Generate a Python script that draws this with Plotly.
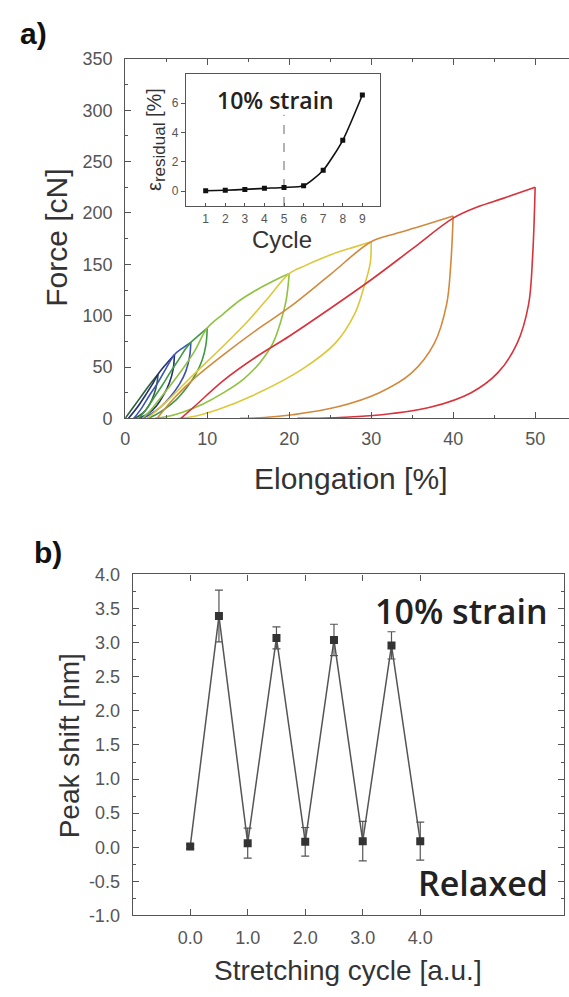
import plotly.graph_objects as go

W, H = 569, 997
AX = "Liberation Sans, Arial, sans-serif"
TXT = "Open Sans, Noto Sans, sans-serif"

# ---------------- panel a) hysteresis loops (Elongation %, Force cN) ----------------
load_x_4 = [0, 1, 2, 3, 4]
load_y_4 = [0, 11, 22, 33, 43]
unload_x_4 = [4, 3.85, 3.5, 3.0, 2.4, 1.7, 1.05]
unload_y_4 = [43, 33, 23, 14, 7, 2.5, 0]

load_x_6 = [0.4, 1.5, 2.5, 3.3, 4, 5, 6]
load_y_6 = [0, 11, 23, 33, 43, 53, 62]
unload_x_6 = [6, 5.85, 5.4, 4.7, 3.8, 2.8, 1.66]
unload_y_6 = [62, 48, 35, 23, 12, 4.5, 0]

load_x_8 = [1.05, 2, 3, 4, 5, 6, 7, 8]
load_y_8 = [0, 10, 23, 35, 49, 62, 68.5, 74]
unload_x_8 = [8, 7.85, 7.4, 6.6, 5.5, 4.3, 3.1, 2.1]
unload_y_8 = [74, 60, 46, 33, 21, 11, 4, 0]

load_x_10 = [1.66, 2.5, 3.5, 4.5, 5.5, 6.5, 7.3, 8, 9, 10]
load_y_10 = [0, 8, 20, 32, 45, 57, 67, 74, 81, 88]
unload_x_10 = [10, 9.85, 9.4, 8.6, 7.5, 6.2, 4.8, 3.6, 2.7]
unload_y_10 = [88, 72, 57, 43, 30, 18, 9, 3, 0]

load_x_20 = [2.1, 3, 4, 5.5, 7, 8.5, 10, 12, 14, 16, 18, 20]
load_y_20 = [0, 7, 17, 32, 48, 66, 88, 102, 115, 125, 133.5, 141]
unload_x_20 = [20, 19.85, 19.6, 19, 18, 16.4, 14.4, 12, 9.5, 7, 5, 3.6]
unload_y_20 = [141, 128, 114, 95, 73, 54, 38, 25, 14, 6, 1.5, 0]

load_x_30 = [2.7, 5, 8, 11.9, 15, 17.5, 20, 22, 24, 26, 28, 30]
load_y_30 = [0, 16, 40, 70, 95, 118, 141, 149, 156, 162, 167, 172]
unload_x_30 = [30, 29.9, 29.2, 28, 25.6, 21.6, 15.5, 11.5, 8.5, 6.5]
unload_y_30 = [172, 152, 130, 102, 73, 48, 22, 9, 2, 0]

load_x_40 = [3.9, 6, 8.3, 12, 16, 20, 25, 30, 33, 36, 40]
load_y_40 = [0, 20, 38, 62, 86, 108, 140, 172, 180, 187, 197]
unload_x_40 = [40, 39.7, 39.2, 37.7, 34.9, 31, 25.8, 20.4, 17, 14]
unload_y_40 = [197, 149, 111, 73, 44, 25, 11, 3.5, 0.8, 0]

load_x_50 = [6.8, 8.5, 12, 16, 20, 25, 30, 35, 40, 43, 46, 50]
load_y_50 = [0, 12, 37, 60, 80, 107, 135, 165, 195, 206, 214, 225]
unload_x_50 = [50, 49.7, 49.2, 47.8, 45.4, 42.2, 37.3, 31.3, 25.5, 21]
unload_y_50 = [225, 159, 111, 73, 44, 25, 11, 3.5, 0.6, 0]

loop_colors = {4: "#2f5e3c", 6: "#25306f", 8: "#3b54b8", 10: "#3f9a42",
               20: "#8fc23f", 30: "#dcc83a", 40: "#d2893c", 50: "#d8323c"}

# ---------------- inset: residual strain vs cycle ----------------
cycle = [1, 2, 3, 4, 5, 6, 7, 8, 9]
eps_residual = [0.04, 0.07, 0.13, 0.2, 0.26, 0.37, 1.43, 3.47, 6.55]
ref_cycle = 5
ref_top = 5.2

# ---------------- panel b) peak shift ----------------
stretch_x = [0, 0.5, 1, 1.5, 2, 2.5, 3, 3.5, 4]
peak_shift = [0.01, 3.39, 0.06, 3.07, 0.08, 3.04, 0.09, 2.96, 0.09]
peak_err = [0.03, 0.38, 0.22, 0.16, 0.21, 0.23, 0.29, 0.20, 0.28]
b_tickvals = [0, 1, 2, 3, 4]
b_ticktext = ["0.0", "1.0", "2.0", "3.0", "4.0"]
b_yvals = [-1.0, -0.5, 0.0, 0.5, 1.0, 1.5, 2.0, 2.5, 3.0, 3.5, 4.0]
b_ytext = ["-1.0", "-0.5", "0.0", "0.5", "1.0", "1.5", "2.0", "2.5", "3.0", "3.5", "4.0"]


def px(x):
    return x / W


def py(y):
    return 1 - y / H


fig = go.Figure()

loops = [
    (4, load_x_4, load_y_4, unload_x_4, unload_y_4),
    (6, load_x_6, load_y_6, unload_x_6, unload_y_6),
    (8, load_x_8, load_y_8, unload_x_8, unload_y_8),
    (10, load_x_10, load_y_10, unload_x_10, unload_y_10),
    (20, load_x_20, load_y_20, unload_x_20, unload_y_20),
    (30, load_x_30, load_y_30, unload_x_30, unload_y_30),
    (40, load_x_40, load_y_40, unload_x_40, unload_y_40),
    (50, load_x_50, load_y_50, unload_x_50, unload_y_50),
]
for k, lx, ly, ux, uy in loops:
    for xs, ys in ((lx, ly), (ux, uy)):
        fig.add_trace(go.Scatter(x=xs, y=ys, mode="lines", xaxis="x", yaxis="y",
                                 line=dict(color=loop_colors[k], width=1.6, shape="spline", smoothing=1.0),
                                 showlegend=False, hoverinfo="skip"))

# inset
fig.add_trace(go.Scatter(x=[ref_cycle, ref_cycle], y=[-1, ref_top], mode="lines", xaxis="x2", yaxis="y2",
                         line=dict(color="#666", width=1, dash="dash"), showlegend=False))
fig.add_trace(go.Scatter(x=cycle, y=eps_residual, mode="lines+markers", xaxis="x2", yaxis="y2",
                         line=dict(color="#111", width=1.6, shape="spline", smoothing=0.6),
                         marker=dict(symbol="square", size=5, color="#111"), showlegend=False))

# panel b
fig.add_trace(go.Scatter(x=stretch_x, y=peak_shift, mode="lines+markers", xaxis="x3", yaxis="y3",
                         line=dict(color="#555", width=1.5),
                         marker=dict(symbol="square", size=8, color="#333"),
                         error_y=dict(type="data", array=peak_err, visible=True, color="#555",
                                      thickness=1.2, width=4),
                         showlegend=False))

axis_line = dict(showline=True, linecolor="#555", linewidth=1.3, showgrid=False, zeroline=False,
                 tickcolor="#555", tickwidth=1.2)

fig.update_layout(
    width=W, height=H,
    margin=dict(l=0, r=0, t=0, b=0),
    paper_bgcolor="white", plot_bgcolor="white",
    showlegend=False,
    xaxis=dict(**axis_line, domain=[px(121.3), 1.0], range=[0, 54.13], anchor="y",
               tickvals=[0, 10, 20, 30, 40, 50], ticks="inside", ticklen=6, mirror="ticks",
               minor=dict(ticks="inside", ticklen=3, tickvals=[5, 15, 25, 35, 45], tickcolor="#555"),
               tickfont=dict(family=AX, size=18, color="#555"), ticklabelstandoff=4),
    yaxis=dict(**axis_line, domain=[py(416.7), py(50)], range=[0, 350], anchor="x",
               tickvals=list(range(0, 351, 50)), ticks="inside", ticklen=6,
               minor=dict(ticks="inside", ticklen=3, tickvals=list(range(25, 350, 50)), tickcolor="#555"),
               tickfont=dict(family=AX, size=18, color="#555"), ticklabelstandoff=8),
    xaxis2=dict(**axis_line, domain=[px(182.7), px(378.3)], range=[0, 9.9], anchor="y2",
                tickvals=cycle, ticks="inside", ticklen=3, mirror=True,
                tickfont=dict(family=AX, size=12, color="#555"), ticklabelstandoff=1),
    yaxis2=dict(**axis_line, domain=[py(200), py(65)], range=[-1, 8], anchor="x2",
                tickvals=[0, 2, 4, 6], ticks="outside", ticklen=4, mirror=True,
                tickfont=dict(family=AX, size=12, color="#555")),
    xaxis3=dict(**axis_line, domain=[px(128.8), px(564)], range=[-1, 6.5], anchor="y3",
                tickvals=b_tickvals, ticktext=b_ticktext, ticks="inside", ticklen=6, mirror="ticks",
                tickfont=dict(family=AX, size=18, color="#555"), ticklabelstandoff=6),
    yaxis3=dict(**axis_line, domain=[py(924), py(576)], range=[-1, 4], anchor="x3",
                tickvals=b_yvals, ticktext=b_ytext, ticks="inside", ticklen=6, mirror="ticks",
                minor=dict(ticks="inside", ticklen=3, dtick=0.25, tick0=0, tickcolor="#555"),
                tickfont=dict(family=AX, size=18, color="#555"), ticklabelstandoff=8),
)

ann = []


def add_text(text, x, y, size, color="#333", family=AX, angle=0, weight="normal"):
    ann.append(dict(text=text, x=px(x), y=py(y), xref="paper", yref="paper", showarrow=False,
                    xanchor="center", yanchor="middle", textangle=angle,
                    font=dict(family=family, size=size, color=color, weight=weight)))


add_text("a)", 29, 24, 30, color="#111", weight="bold")
add_text("b)", 43, 554, 30, color="#111", weight="bold")
add_text("Force [cN]", 52, 233, 30, angle=-90)
add_text("Elongation [%]", 349, 478, 30)
add_text("Cycle", 279, 234, 24)
add_text("10% strain", 273, 92, 23, color="#222", family=TXT, weight=600)
add_text("ε<sub><span style='font-size:17px'>residual</span></sub> [%]", 153, 132, 20, angle=-90)
add_text("Peak shift [nm]", 66, 751, 28, angle=-90)
add_text("Stretching cycle [a.u.]", 346, 980, 28)
add_text("10% strain", 461, 613, 34, color="#222", family=TXT, weight=600)
add_text("Relaxed", 482, 891, 34, color="#222", family=TXT, weight=600)

fig.update_layout(annotations=ann)
fig.write_html("out.html", config={"displayModeBar": False},
               post_script="document.body.style.margin='0px';")
